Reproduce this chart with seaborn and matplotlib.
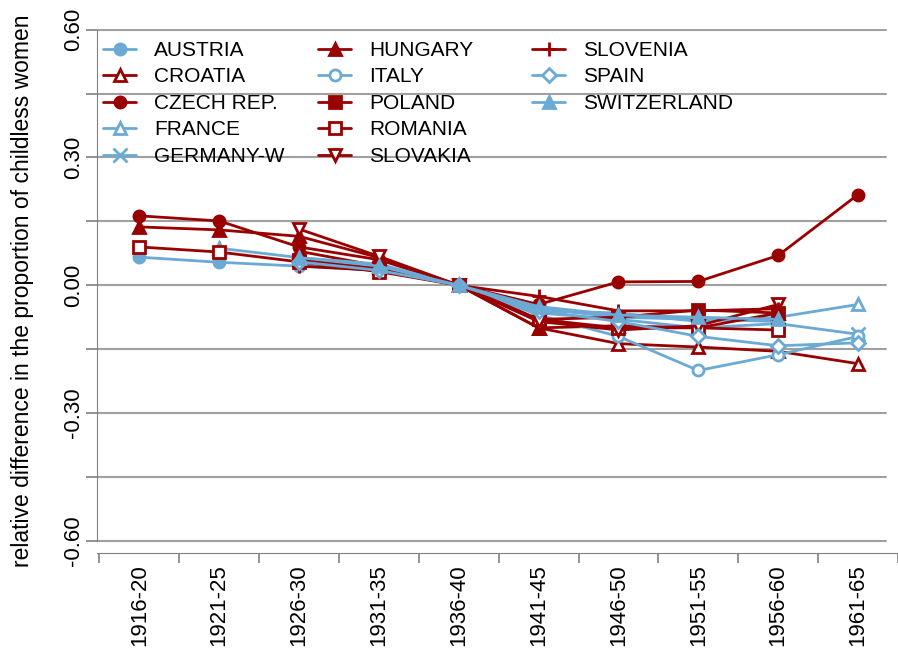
import numpy as np
import pandas as pd
import matplotlib
matplotlib.use("Agg")
import matplotlib.pyplot as plt
import seaborn as sns

periods = ["1916-20", "1921-25", "1926-30", "1931-35", "1936-40",
           "1941-45", "1946-50", "1951-55", "1956-60", "1961-65"]

nan = np.nan
austria = [0.066, 0.054, 0.045, 0.035, 0, -0.055, -0.075, -0.080, -0.085, nan]
croatia = [nan, nan, 0.080, 0.045, 0, -0.100, -0.137, -0.145, -0.155, -0.184]
czech = [0.163, 0.151, 0.090, 0.060, 0, -0.045, 0.008, 0.009, 0.070, 0.213]
france = [nan, 0.087, 0.065, 0.050, 0, -0.060, -0.065, -0.085, -0.075, -0.045]
germany_w = [nan, nan, 0.060, 0.040, 0, -0.065, -0.080, -0.100, -0.090, -0.115]
hungary = [0.137, 0.130, 0.115, 0.065, 0, -0.100, -0.095, -0.100, -0.065, nan]
italy = [nan, nan, 0.050, 0.040, 0, -0.070, -0.120, -0.200, -0.163, -0.120]
poland = [nan, nan, 0.060, 0.040, 0, -0.080, -0.075, -0.058, -0.065, nan]
romania = [0.090, 0.078, 0.055, 0.032, 0, -0.080, -0.100, -0.100, -0.105, nan]
slovakia = [nan, nan, 0.132, 0.068, 0, -0.085, -0.105, -0.095, -0.045, nan]
slovenia = [nan, nan, 0.045, 0.035, 0, -0.026, -0.060, -0.060, -0.055, nan]
spain = [nan, nan, 0.055, 0.035, 0, -0.060, -0.085, -0.120, -0.142, -0.135]
switzerland = [nan, nan, 0.065, 0.045, 0, -0.050, -0.070, -0.075, -0.080, nan]

red = "#990000"
blue = "#6BAAD4"

# name, values, colour, marker, filled
series = [
    ("AUSTRIA", austria, blue, "o", True),
    ("CROATIA", croatia, red, "^", False),
    ("CZECH REP.", czech, red, "o", True),
    ("FRANCE", france, blue, "^", False),
    ("GERMANY-W", germany_w, blue, "x", True),
    ("HUNGARY", hungary, red, "^", True),
    ("ITALY", italy, blue, "o", False),
    ("POLAND", poland, red, "s", True),
    ("ROMANIA", romania, red, "s", False),
    ("SLOVAKIA", slovakia, red, "v", False),
    ("SLOVENIA", slovenia, red, "+", True),
    ("SPAIN", spain, blue, "D", False),
    ("SWITZERLAND", switzerland, blue, "^", True),
]

sns.set_style("white")
plt.rcParams["font.family"] = ["Liberation Sans", "DejaVu Sans"]
plt.rcParams["text.color"] = "black"
plt.rcParams["axes.labelcolor"] = "black"

fig = plt.figure(figsize=(8.98, 6.55), dpi=100)
ax = fig.add_axes([0.108, 0.156, 0.892, 0.80])

# spines first (set_position resets tick styling)
for s in ["top", "right"]:
    ax.spines[s].set_visible(False)
ax.spines["left"].set_position(("data", -0.53))
ax.spines["left"].set_color("#808080")
ax.spines["bottom"].set_color("#808080")

x = np.arange(len(periods))
for name, vals, col, mk, filled in series:
    df = pd.DataFrame({"x": x, "y": vals}).dropna()
    ms = 8 if mk not in ("x", "+") else 10
    if mk == "D":
        ms = 7
    sns.lineplot(data=df, x="x", y="y", ax=ax, color=col, linewidth=2,
                 marker=mk, markersize=ms,
                 markerfacecolor=col if filled else "white",
                 markeredgecolor=col, markeredgewidth=2, label=name)

# grid lines
for g in np.arange(-0.60, 0.61, 0.15):
    ax.axhline(g, xmin=0, xmax=0.985, color="#A0A0A0", lw=1.5, zorder=0)

ax.set_xlim(-0.53, 9.38)
ax.set_ylim(-0.628, 0.602)
ax.spines["left"].set_bounds(-0.6, 0.6)

ax.set_yticks([-0.6, -0.3, 0, 0.3, 0.6])
ax.set_yticklabels(["-0.60", "-0.30", "0.00", "0.30", "0.60"],
                   rotation=90, va="center", fontsize=16)
ax.set_yticks(np.arange(-0.45, 0.46, 0.30), minor=True)
ax.set_ylabel("relative difference in the proportion of childless women",
              fontsize=16.5, labelpad=21)

ax.set_xticks(x)
ax.set_xticklabels(periods, rotation=90, fontsize=16)
ax.set_xticks(np.arange(-0.5, 9.6, 1), minor=True)
ax.tick_params(axis="x", which="major", length=0, pad=8, labelcolor="black")
ax.tick_params(axis="x", which="minor", bottom=True, length=7,
               color="#808080", width=1.2)
ax.tick_params(axis="y", which="both", left=True, length=8, color="#808080",
               width=1.2, pad=1.5, labelcolor="black")
ax.set_xlabel("")

# legend in three fixed-width columns
handles, labels = ax.get_legend_handles_labels()
ax.get_legend().remove()
groups = [(0, 5, 0.0075), (5, 10, 0.276), (10, 13, 0.543)]
for i, (a, b, xa) in enumerate(groups):
    leg = ax.legend(handles[a:b], labels[a:b], loc="upper left", frameon=False,
                    fontsize=15, bbox_to_anchor=(xa, 0.977), borderpad=0,
                    borderaxespad=0, handlelength=1.6, handletextpad=0.85,
                    labelspacing=0.36)
    if i < len(groups) - 1:
        ax.add_artist(leg)

fig.savefig("out.png", dpi=100)
